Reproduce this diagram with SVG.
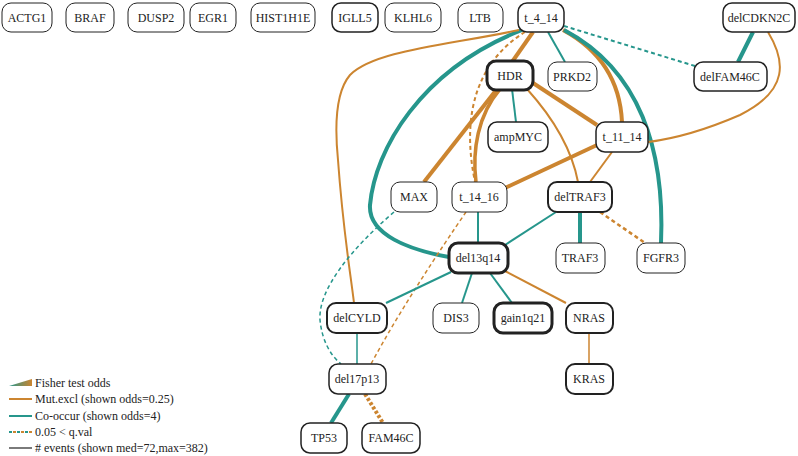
<svg xmlns="http://www.w3.org/2000/svg" width="798" height="456" viewBox="0 0 798 456">
<defs>
<linearGradient id="wedge" x1="0" y1="0" x2="1" y2="0">
<stop offset="0" stop-color="#26968C"/>
<stop offset="1" stop-color="#CC8530"/>
</linearGradient>
</defs>
<style>
.n rect{fill:#fff;stroke:#222;stroke-width:1}
.n text{font-family:"Liberation Serif",serif;font-size:12px;text-anchor:middle;fill:#222}
.b2 rect{stroke-width:2}
.b3 rect{stroke-width:3}
.b15 rect{stroke-width:1.5}
.e{fill:none;stroke-linecap:butt}
.o{stroke:#CC8530}
.t{stroke:#26968C}
.d{stroke-dasharray:4,3}
.lg{font-family:"Liberation Serif",serif;font-size:12px;fill:#222}
</style>
<rect width="798" height="456" fill="#fff"/>
<g id="connectors">
<path class="e o" stroke-width="4" d="M533,32 L512,62"/>
<path class="e t" stroke-width="2" d="M548,32 L565,62"/>
<path class="e t d" stroke-width="2" d="M564,26 L695,66"/>
<path class="e o" stroke-width="4" d="M563,30 C600,50 620,80 622,122"/>
<path class="e t" stroke-width="4" d="M564,30 C640,70 665,150 661,243"/>
<path class="e t" stroke-width="4" d="M522,30 C420,70 375,150 370,205 C368,235 410,250 449,257"/>
<path class="e o" stroke-width="2" d="M519,30 C450,45 375,50 350,75 C333,95 336,140 338,160 C343,230 350,270 354,303"/>
<path class="e o d" stroke-width="2" d="M525,32 C480,60 460,110 475,182"/>
<path class="e o" stroke-width="4" d="M497,89 L424,182"/>
<path class="e o" stroke-width="3.5" d="M500,89 C478,115 472,150 476,182"/>
<path class="e t" stroke-width="2" d="M512,89 L516,122"/>
<path class="e o" stroke-width="4" d="M533,83 L597,125"/>
<path class="e o" stroke-width="2" d="M527,89 C555,120 572,150 578,182"/>
<path class="e o" stroke-width="4" d="M597,145 L505,188"/>
<path class="e o" stroke-width="2" d="M612,152 L590,182"/>
<path class="e t" stroke-width="4" d="M753,32 L738,62"/>
<path class="e o" stroke-width="2" d="M768,32 C785,60 790,90 740,115 C710,128 680,138 648,142"/>
<path class="e t" stroke-width="2" d="M556,212 L505,245"/>
<path class="e t" stroke-width="4" d="M580,212 L580,243"/>
<path class="e o d" stroke-width="2.5" d="M600,212 L645,243"/>
<path class="e t" stroke-width="2" d="M478,212 L478,243"/>
<path class="e o d" stroke-width="1.5" d="M466,212 C440,250 400,310 371,364"/>
<path class="e t d" stroke-width="1.5" d="M394,212 C350,250 318,290 320,320 C322,340 330,355 341,364"/>
<path class="e t" stroke-width="2" d="M451,272 L386,303"/>
<path class="e t" stroke-width="2" d="M472,273 L462,303"/>
<path class="e t" stroke-width="2" d="M490,273 L512,303"/>
<path class="e o" stroke-width="2" d="M505,271 L566,303"/>
<path class="e t" stroke-width="1.5" d="M357,333 L357,364"/>
<path class="e o" stroke-width="1.5" d="M589,333 L589,364"/>
<path class="e t" stroke-width="4" d="M349,394 L331,423"/>
<path class="e o" stroke-width="4" stroke-dasharray="3,2" d="M365,394 L383,423"/>
</g>
<g id="ACTG1" class="n"><rect x="2" y="3" width="50" height="29" rx="9"/><text x="27" y="22">ACTG1</text></g>
<g id="BRAF" class="n"><rect x="66" y="3" width="48" height="29" rx="9"/><text x="90" y="22">BRAF</text></g>
<g id="DUSP2" class="n"><rect x="128" y="3" width="56" height="29" rx="9"/><text x="156" y="22">DUSP2</text></g>
<g id="EGR1" class="n"><rect x="190" y="3" width="46" height="29" rx="9"/><text x="213" y="22">EGR1</text></g>
<g id="HIST1H1E" class="n"><rect x="251" y="3" width="64" height="29" rx="9"/><text x="283" y="22">HIST1H1E</text></g>
<g id="IGLL5" class="n b15"><rect x="332" y="3" width="46" height="29" rx="9"/><text x="355" y="22">IGLL5</text></g>
<g id="KLHL6" class="n"><rect x="385" y="3" width="56" height="29" rx="9"/><text x="413" y="22">KLHL6</text></g>
<g id="LTB" class="n"><rect x="458" y="3" width="45" height="29" rx="9"/><text x="480" y="22">LTB</text></g>
<g id="t_4_14" class="n b15"><rect x="518" y="3" width="46" height="29" rx="9"/><text x="541" y="22">t_4_14</text></g>
<g id="delCDKN2C" class="n b15"><rect x="723" y="3" width="72" height="29" rx="9"/><text x="759" y="22">delCDKN2C</text></g>
<g id="HDR" class="n b3"><rect x="487" y="61" width="46" height="29" rx="9"/><text x="510" y="80">HDR</text></g>
<g id="PRKD2" class="n"><rect x="548" y="62" width="49" height="29" rx="9"/><text x="572" y="81">PRKD2</text></g>
<g id="delFAM46C" class="n b15"><rect x="694" y="62" width="73" height="29" rx="9"/><text x="730" y="81">delFAM46C</text></g>
<g id="ampMYC" class="n b15"><rect x="488" y="122" width="60" height="30" rx="9"/><text x="518" y="141">ampMYC</text></g>
<g id="t_11_14" class="n b15"><rect x="596" y="122" width="52" height="30" rx="9"/><text x="622" y="141">t_11_14</text></g>
<g id="MAX" class="n"><rect x="391" y="182" width="46" height="30" rx="9"/><text x="414" y="201">MAX</text></g>
<g id="t_14_16" class="n"><rect x="452" y="182" width="55" height="30" rx="9"/><text x="479" y="201">t_14_16</text></g>
<g id="delTRAF3" class="n b2"><rect x="548" y="182" width="64" height="30" rx="9"/><text x="580" y="201">delTRAF3</text></g>
<g id="del13q14" class="n b3"><rect x="449" y="243" width="59" height="30" rx="9"/><text x="478" y="262">del13q14</text></g>
<g id="TRAF3" class="n"><rect x="556" y="243" width="49" height="30" rx="9"/><text x="580" y="262">TRAF3</text></g>
<g id="FGFR3" class="n"><rect x="637" y="243" width="48" height="30" rx="9"/><text x="661" y="262">FGFR3</text></g>
<g id="delCYLD" class="n b2"><rect x="327" y="303" width="60" height="30" rx="9"/><text x="357" y="322">delCYLD</text></g>
<g id="DIS3" class="n"><rect x="433" y="303" width="46" height="30" rx="9"/><text x="456" y="322">DIS3</text></g>
<g id="gain1q21" class="n b3"><rect x="494" y="303" width="58" height="30" rx="9"/><text x="523" y="322">gain1q21</text></g>
<g id="NRAS" class="n b2"><rect x="566" y="303" width="47" height="30" rx="9"/><text x="589" y="322">NRAS</text></g>
<g id="del17p13" class="n b15"><rect x="329" y="364" width="57" height="30" rx="9"/><text x="357" y="383">del17p13</text></g>
<g id="KRAS" class="n b2"><rect x="566" y="364" width="47" height="30" rx="9"/><text x="589" y="383">KRAS</text></g>
<g id="TP53" class="n b15"><rect x="301" y="423" width="46" height="30" rx="9"/><text x="324" y="442">TP53</text></g>
<g id="FAM46C" class="n b15"><rect x="362" y="423" width="58" height="30" rx="9"/><text x="391" y="442">FAM46C</text></g>
<g id="legend">
<polygon points="9,386 32,379 32,386" fill="url(#wedge)"/>
<text class="lg" x="35" y="387">Fisher test odds</text>
<line x1="9" y1="399" x2="32" y2="399" stroke="#CC8530" stroke-width="2"/>
<text class="lg" x="35" y="403">Mut.excl (shown odds=0.25)</text>
<line x1="9" y1="416" x2="32" y2="416" stroke="#26968C" stroke-width="2"/>
<text class="lg" x="35" y="420">Co-occur (shown odds=4)</text>
<line x1="9" y1="432" x2="32" y2="432" stroke="#26968C" stroke-width="2" stroke-dasharray="3,5"/>
<line x1="13" y1="432" x2="32" y2="432" stroke="#CC8530" stroke-width="2" stroke-dasharray="3,5"/>
<text class="lg" x="35" y="436">0.05 &lt; q.val</text>
<line x1="9" y1="448" x2="32" y2="448" stroke="#222" stroke-width="1.2"/>
<text class="lg" x="35" y="452"># events (shown med=72,max=382)</text>
</g>
</svg>
